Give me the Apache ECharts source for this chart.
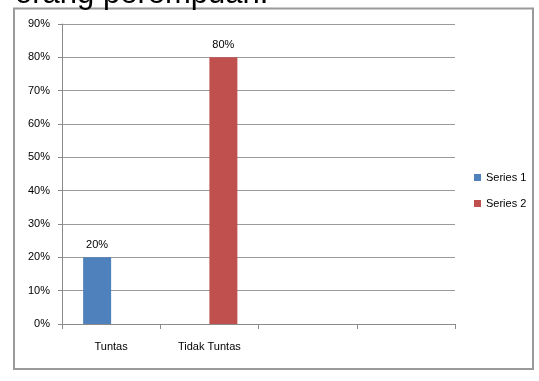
<!DOCTYPE html>
<html>
<head>
<meta charset="utf-8">
<script src="https://cdn.jsdelivr.net/npm/echarts@6/dist/echarts.min.js"></script>
<style>
html,body{margin:0;padding:0;background:#fff;}
#c{width:539px;height:381px;}
</style>
</head>
<body>
<div id="c"></div>
<script>
const titleText = 'orang perempuan.';
const categories = ['Tuntas', 'Tidak Tuntas', '', ''];
const seriesNames = ['Series 1', 'Series 2'];
const series1 = [20, null, null, null];
const series2 = [null, 80, null, null];
const yTicks = { min: 0, max: 90, interval: 10 };

const FONT = 'Liberation Sans';
const chart = echarts.init(document.getElementById('c'), null, { renderer: 'canvas' });
chart.setOption({
  animation: false,
  backgroundColor: '#fff',
  textStyle: { fontFamily: FONT },
  graphic: [
    { type: 'rect', shape: { x: 14, y: 8.5, width: 519, height: 360.5 }, style: { fill: 'none', stroke: '#9a9a9a', lineWidth: 2 }, z: 0 },
    { type: 'text', x: 15, y: -6, style: { text: titleText, font: '31px "Liberation Sans"', fill: '#000', verticalAlign: 'middle', align: 'left' }, z: 10 }
  ],
  grid: { left: 62, right: 84, top: 24, bottom: 57, containLabel: false },
  legend: {
    orient: 'vertical', left: 474, top: 172, padding: 0,
    itemWidth: 7, itemHeight: 7, itemGap: 15, icon: 'rect',
    textStyle: { fontSize: 11, color: '#000', fontFamily: FONT },
    data: seriesNames
  },
  xAxis: {
    type: 'category', data: categories, boundaryGap: true,
    axisLine: { lineStyle: { color: '#8a8a8a', width: 1 } },
    axisTick: { show: true, length: 5, interval: 0, lineStyle: { color: '#8a8a8a' } },
    axisLabel: { interval: 0, margin: 17, fontSize: 11, color: '#000', fontFamily: FONT },
    splitLine: { show: false }
  },
  yAxis: {
    type: 'value', min: yTicks.min, max: yTicks.max, interval: yTicks.interval,
    axisLine: { show: true, lineStyle: { color: '#8a8a8a', width: 1 } },
    axisTick: { show: true, length: 4, lineStyle: { color: '#8a8a8a' } },
    axisLabel: { formatter: '{value}%', margin: 12, fontSize: 11, color: '#000', fontFamily: FONT },
    splitLine: { show: true, lineStyle: { color: '#9a9a9a', width: 1 } }
  },
  series: [
    { name: seriesNames[0], type: 'bar', data: series1, barWidth: 28, barGap: '0%',
      itemStyle: { color: '#4F81BD' },
      label: { show: true, position: 'top', distance: 7, formatter: '{c}%', fontSize: 11, color: '#000', fontFamily: FONT } },
    { name: seriesNames[1], type: 'bar', data: series2, barWidth: 28, barGap: '0%',
      itemStyle: { color: '#C0504D' },
      label: { show: true, position: 'top', distance: 7, formatter: '{c}%', fontSize: 11, color: '#000', fontFamily: FONT } }
  ]
});
</script>
</body>
</html>
